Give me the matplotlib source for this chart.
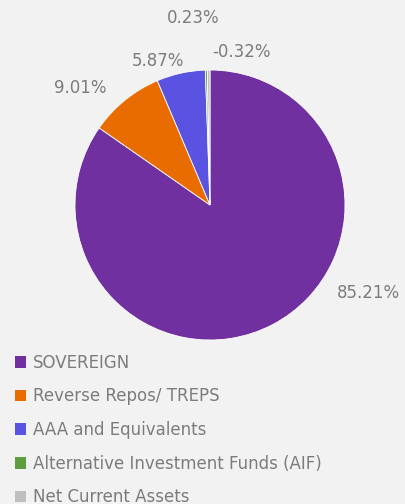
import matplotlib.pyplot as plt
import numpy as np
from matplotlib.patches import Patch

labels = ["SOVEREIGN", "Reverse Repos/ TREPS", "AAA and Equivalents",
          "Alternative Investment Funds (AIF)", "Net Current Assets"]
values = [85.21, 9.01, 5.87, 0.23, -0.32]
colors = ["#7030a0", "#e96c00", "#5a52e0", "#5c9e40", "#bfbfbf"]

# label positions (data units, pie radius = 1)
label_pos = [(1.17, -0.65), (-0.96, 0.87), (-0.385, 1.07), (-0.126, 1.385), (0.237, 1.133)]

plt.rcParams['font.family'] = ['DejaVu Sans']
bg = "#f2f2f2"
txt = "#7c7c7c"
fig = plt.figure(figsize=(4.05, 5.04), dpi=100, facecolor=bg)
W, H = 405, 504
cx, cy, r = 210, 205, 135
half = 1.5 * r
ax = fig.add_axes([(cx - half) / W, (H - cy - half) / H, 2 * half / W, 2 * half / H])
ax.set_facecolor(bg)
ax.axis('off')

sizes = np.abs(values)
ax.pie(sizes, colors=colors, startangle=90, counterclock=False, radius=1,
       wedgeprops=dict(edgecolor='white', linewidth=0.6))
ax.set_xlim(-1.5, 1.5)
ax.set_ylim(-1.5, 1.5)

for v, (x, y) in zip(values, label_pos):
    ax.text(x, y, f"{v:.2f}%", ha='center', va='center', fontsize=12, color=txt)

handles = [Patch(facecolor=c, edgecolor='none') for c in colors]
fig.legend(handles, labels, loc='upper left', bbox_to_anchor=(8 / W, 1 - 347 / H),
           frameon=False, fontsize=12, labelcolor=txt, handlelength=0.7,
           handleheight=0.7, handletextpad=0.4, labelspacing=0.94, borderaxespad=0)

fig.savefig("out.png", dpi=100, facecolor=bg)
